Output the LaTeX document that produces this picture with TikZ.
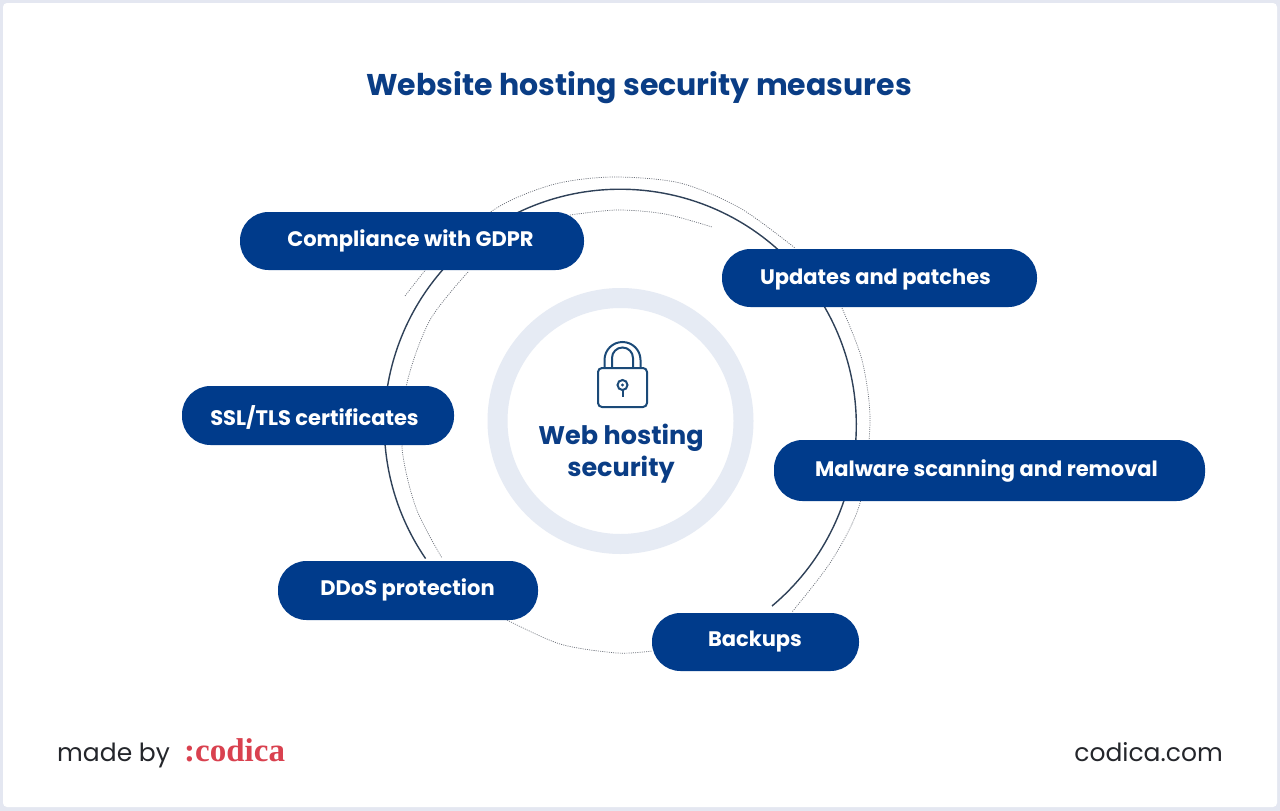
\documentclass[tikz,border=0pt]{standalone}
\usepackage{fontspec}
\setmainfont{Poppins}
\newfontfamily\logofont{Liberation Serif}
\definecolor{framec}{HTML}{E4E7F1}
\definecolor{pillc}{HTML}{003B8B}
\definecolor{ringc}{HTML}{E6EBF4}
\definecolor{titlec}{HTML}{0A3D85}
\definecolor{lockc}{HTML}{1B4A78}
\definecolor{linec}{HTML}{2F4158}
\definecolor{dotc}{HTML}{6A6F78}
\definecolor{inkc}{HTML}{24262B}
\definecolor{redc}{HTML}{D9414F}
\tikzset{
  pill/.style={fill=pillc,rounded corners=28.5pt,inner sep=0pt},
  pilltext/.style={text=white,font=\fontsize{21}{25}\selectfont\bfseries,inner sep=0pt,anchor=center},
  dotarc/.style={draw=dotc,line width=0.7pt,dash pattern=on 1pt off 1.2pt},
  lockline/.style={draw=lockc,line width=2pt}
}
\begin{document}
\begin{tikzpicture}[x=1pt,y=-1pt]
\useasboundingbox (0,0) rectangle (1280,811);
\fill[framec] (0,0) rectangle (1280,811);
\fill[white,rounded corners=4pt] (3,3) rectangle (1277,807);
% dotted arcs
\draw[dotarc] plot[smooth] coordinates {(405,296) (445,248) (500,206) (555,184) (613,177) (680,183) (740,208) (795,248)};
\draw[dotarc] plot[smooth] coordinates {(570,215) (617,210) (665,214) (712,227)};
\draw[dotarc] plot[smooth] coordinates {(468,272) (430,320) (407,383) (402,447) (416,508) (442,558)};
\draw[dotarc] plot[smooth] coordinates {(842,308) (862,360) (870,422) (860,503) (832,560) (792,612)};
\draw[dotarc] plot[smooth] coordinates {(507,620) (560,644) (617,653) (652,651)};
% solid arc
\draw[linec,line width=1.4pt] (772,606) arc[start angle=50,end angle=-214.4,radius=236];
% central ring
\draw[ringc,line width=20pt,fill=white] (620.5,421) circle[radius=123];
% lock
\draw[lockline,rounded corners=4pt] (598,368) rectangle (647,407);
\draw[lockline] (604.5,368) -- (604.5,360) arc[start angle=180,end angle=360,radius=18] -- (640.5,368);
\draw[lockline] (612,368) -- (612,358) arc[start angle=180,end angle=360,radius=10.5] -- (633,368);
\draw[lockline] (622.5,385) circle[radius=5];
\fill[lockc] (622.5,385) circle[radius=1.6];
\draw[lockline] (622.5,390) -- (622.5,397);
% pills
\fill[pill] (240,212) rectangle (584,270);
\fill[pill] (722,249) rectangle (1037,307);
\fill[pill] (182,386) rectangle (454,445);
\fill[pill] (774,440) rectangle (1205,501);
\fill[pill] (278,561) rectangle (538,620);
\fill[pill] (652,613) rectangle (859,671);
\node[pilltext] (gdpr) at (410.5,241) {Compliance with GDPR};
\node[pilltext] (upd) at (875.5,280) {Updates and patches};
\node[pilltext] (ssl) at (314.5,417) {SSL/TLS certificates};
\node[pilltext] (mal) at (986.5,471) {Malware scanning and removal};
\node[pilltext] (ddos) at (407.5,590) {DDoS protection};
\node[pilltext] (back) at (755,642) {Backups};
% texts
\node[text=titlec,font=\fontsize{30}{36}\selectfont\bfseries,inner sep=0pt] (title) at (639,88) {Website hosting security measures};
\node[text=titlec,font=\fontsize{25.5}{32}\selectfont\bfseries,inner sep=0pt,align=center] (center) at (621,454) {Web hosting\\security};
\node[text=inkc,font=\fontsize{25}{30}\selectfont\bfseries\mdseries,inner sep=0pt,anchor=base west] (made) at (57,761) {made by};
\node[text=redc,font=\logofont\fontsize{33}{36}\selectfont\bfseries,inner sep=0pt,anchor=base west] (logo) at (184,761) {:codica};
\node[text=inkc,font=\fontsize{25}{30}\selectfont,inner sep=0pt,anchor=base east] (site) at (1223,761) {codica.com};
\end{tikzpicture}
\end{document}
